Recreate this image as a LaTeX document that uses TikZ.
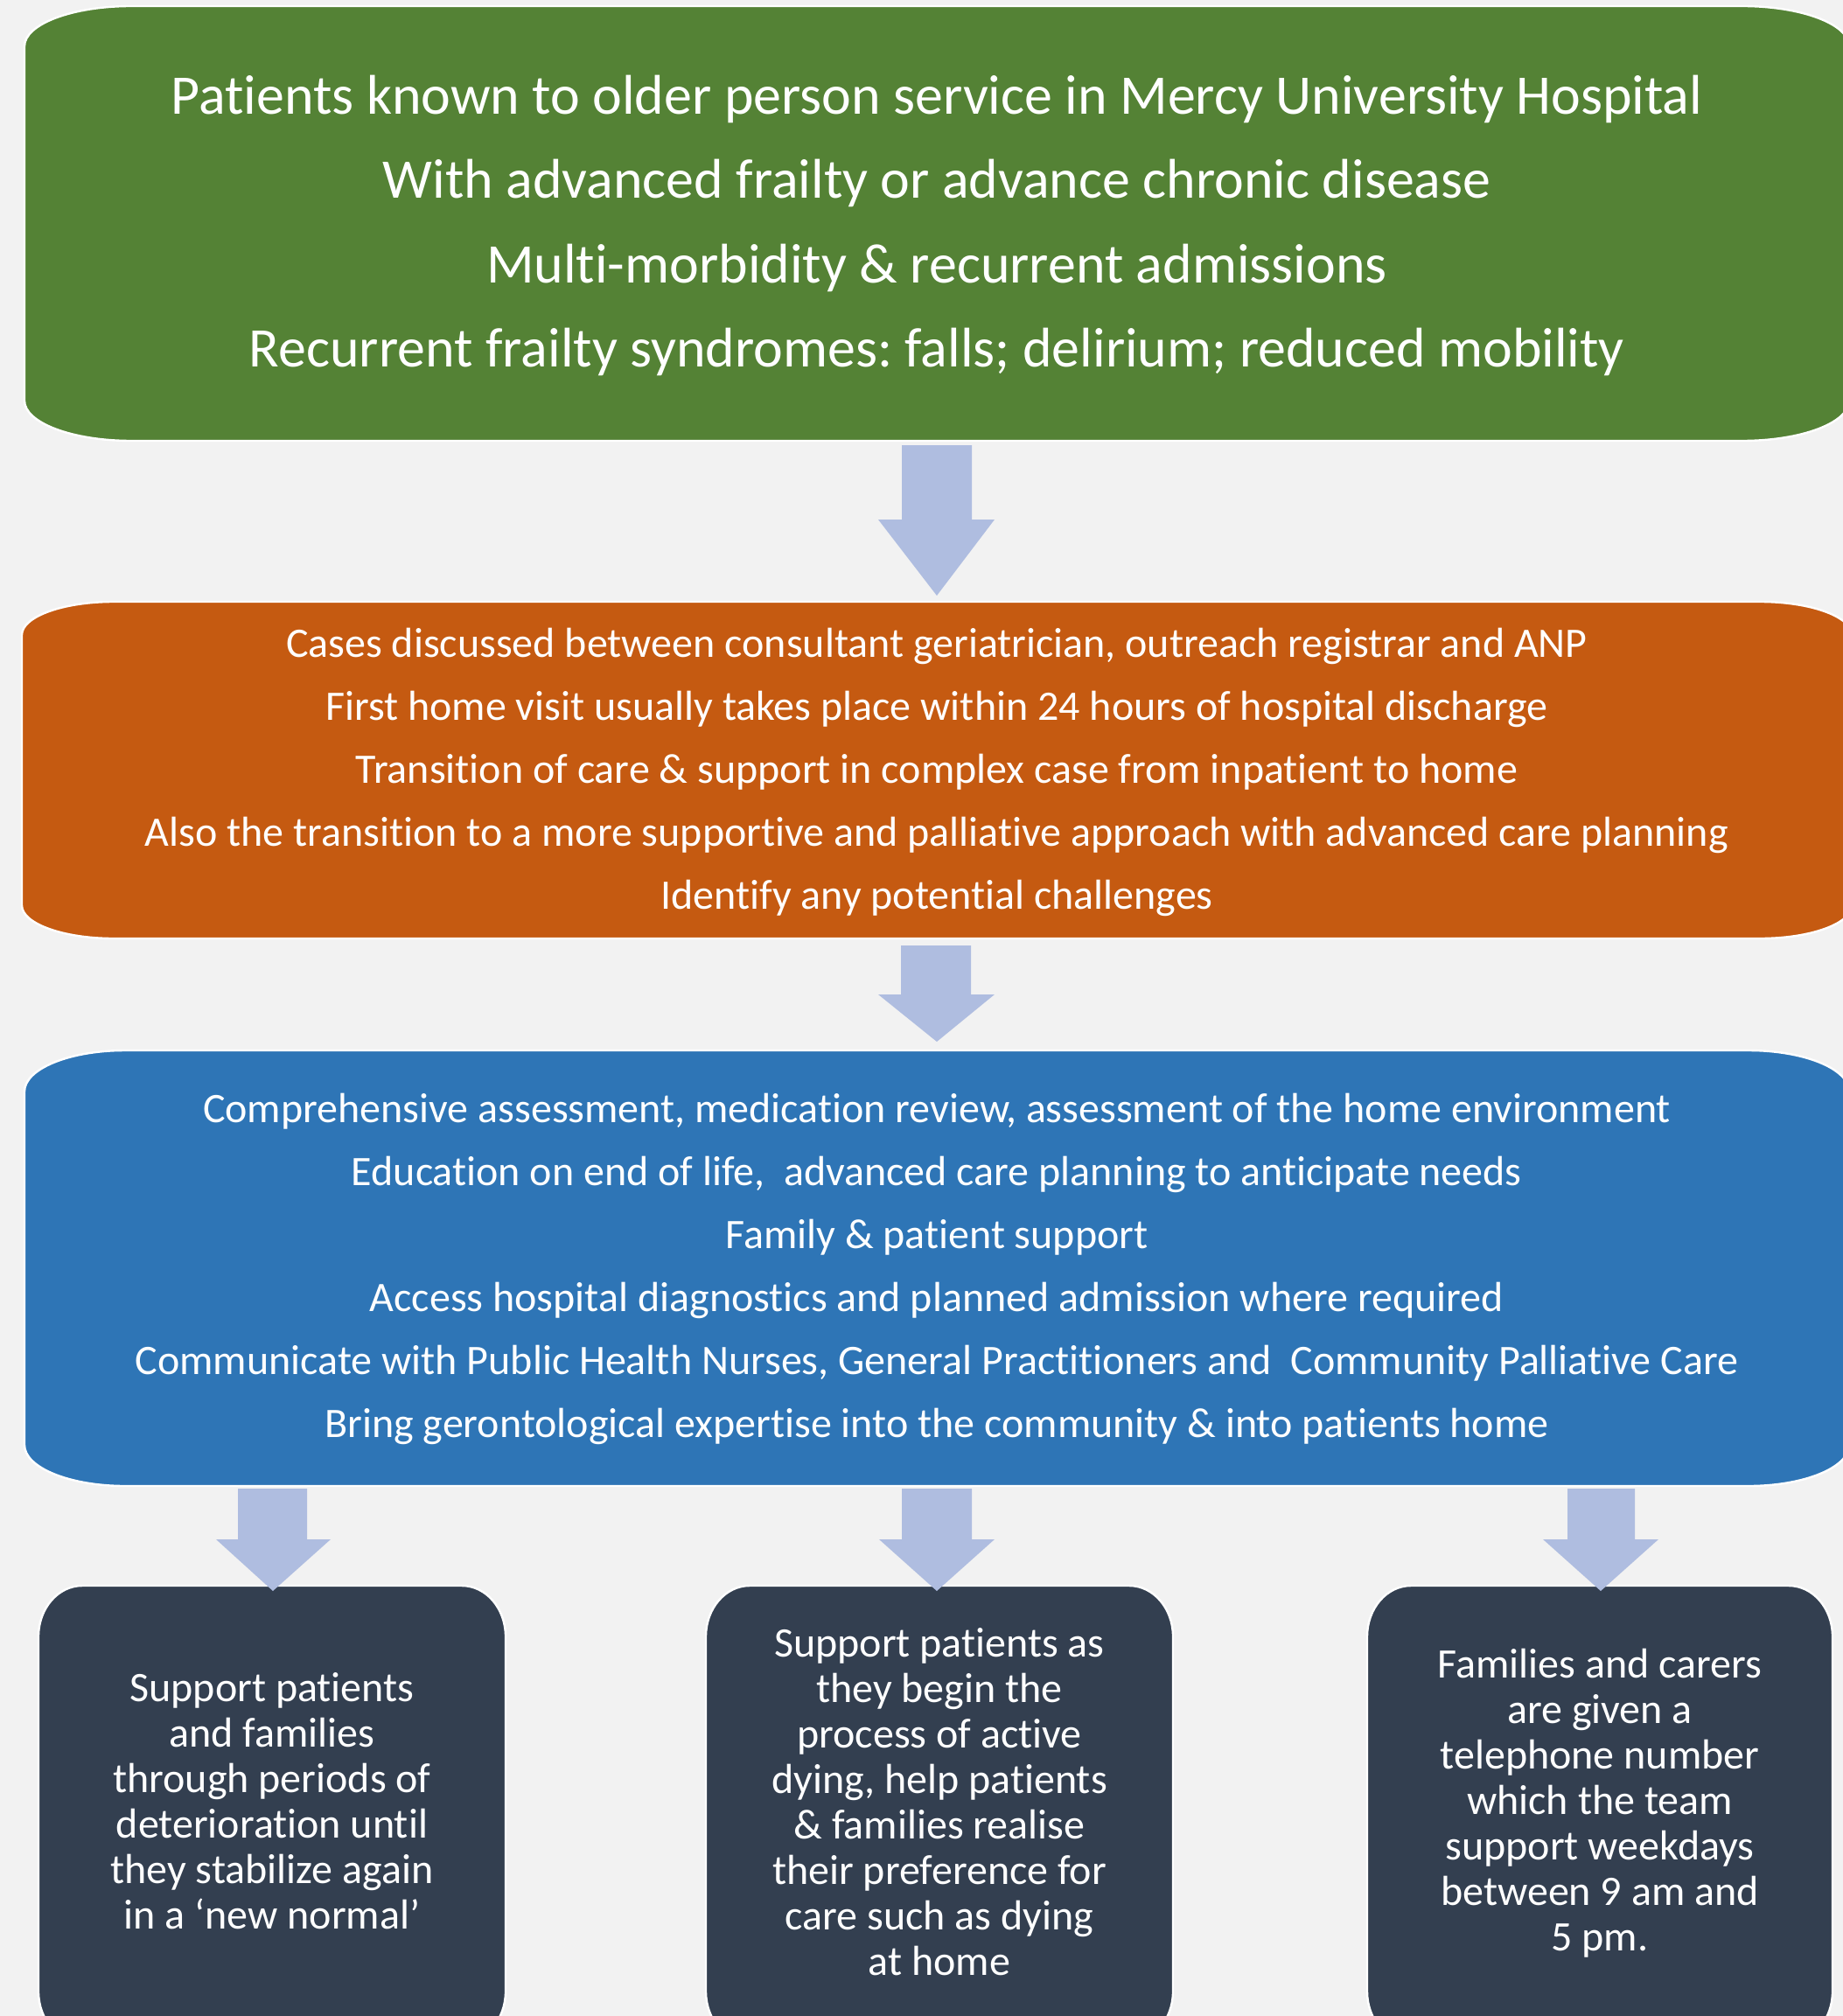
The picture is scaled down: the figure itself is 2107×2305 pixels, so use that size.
\documentclass[tikz,border=0pt]{standalone}
\usepackage{fontspec}
\setmainfont{Carlito}[Ligatures=NoCommon]
\frenchspacing
\definecolor{bgc}{HTML}{F2F2F2}
\definecolor{greenc}{HTML}{548235}
\definecolor{orangec}{HTML}{C55A11}
\definecolor{bluec}{HTML}{2E75B6}
\definecolor{darkc}{HTML}{333F50}
\definecolor{arrowc}{HTML}{AFBDE0}
\tikzset{
  boxfill/.style={fill=#1, draw=white, line width=1.2pt},
  arrowfill/.style={fill=arrowc},
  bigtext/.style={inner sep=0pt, text=white, align=center, font=\frenchspacing\fontsize{31.95pt}{48.25pt}\selectfont},
  midtext/.style={inner sep=0pt, text=white, align=center, font=\frenchspacing\fontsize{24pt}{36pt}\selectfont},
  smalltext/.style={inner sep=0pt, text=white, align=center, font=\frenchspacing\fontsize{24pt}{26pt}\selectfont}
}
% elliptical-corner box: style, x-left, y-top, x-right, y-bottom, rx, ry (pixel coords, y down)
\newcommand{\ebox}[7]{\path[#1] (#2+#6,-#3) -- (#4-#6,-#3)
  arc[start angle=90,end angle=0,x radius=#6,y radius=#7] -- (#4,-#5+#7)
  arc[start angle=0,end angle=-90,x radius=#6,y radius=#7] -- (#2+#6,-#5)
  arc[start angle=270,end angle=180,x radius=#6,y radius=#7] -- (#2,-#3-#7)
  arc[start angle=180,end angle=90,x radius=#6,y radius=#7] -- cycle;}
% block arrow: shaft left, shaft right, top, head y, head left, head right, tip x, tip y
\newcommand{\barrow}[8]{\fill[arrowfill] (#1,-#3) -- (#2,-#3) -- (#2,-#4) -- (#6,-#4) -- (#7,-#8) -- (#5,-#4) -- (#1,-#4) -- cycle;}
\begin{document}
\begin{tikzpicture}[x=0.5pt,y=0.5pt]
\useasboundingbox (0,0) rectangle (2107,-2305);
\clip (0,0) rectangle (2107,-2305);
\fill[bgc] (0,0) rectangle (2107,-2305);

% boxes
\ebox{boxfill=greenc}{28}{7}{2114}{504}{122}{46}
\ebox{boxfill=orangec}{25}{688}{2117}{1073}{105}{38}
\ebox{boxfill=bluec}{28}{1201}{2114}{1699}{115}{47}
\ebox{boxfill=darkc}{44}{1813}{578}{2335}{50}{58}
\ebox{boxfill=darkc}{807}{1813}{1341}{2335}{50}{58}
\ebox{boxfill=darkc}{1563}{1813}{2095}{2335}{50}{58}

% block arrows
\barrow{1031}{1111}{509}{594}{1004}{1137}{1071}{681}
\barrow{1030}{1110}{1081}{1137}{1004}{1137}{1071}{1191}
\barrow{272}{351}{1702}{1760}{247}{378}{312}{1819}
\barrow{1031}{1111}{1702}{1760}{1005}{1137}{1071}{1819}
\barrow{1792}{1869}{1702}{1760}{1764}{1896}{1830}{1819}

% texts
\node[bigtext] (g) at (1071,-258) {Patients known to older person service in Mercy University Hospital\\
With advanced frailty or advance chronic disease\\
Multi-morbidity \& recurrent admissions\\
Recurrent frailty syndromes: falls; delirium; reduced mobility};

\node[midtext] (o) at (1071,-883) {Cases discussed between consultant geriatrician, outreach registrar and ANP\\
First home visit usually takes place within 24 hours of hospital discharge\\
Transition of care \& support in complex case from inpatient to home\\
Also the transition to a more supportive and palliative approach with advanced care planning\\
Identify any potential challenges};

\node[midtext] (b) at (1071,-1451) {Comprehensive assessment, medication review, assessment of the home environment\\
Education on end of life,\ \ advanced care planning to anticipate needs\\
Family \& patient support\\
Access hospital diagnostics and planned admission where required\\
Communicate with Public Health Nurses, General Practitioners and\ \ Community Palliative Care\\
Bring gerontological expertise into the community \& into patients home};

\node[smalltext] (l) at (311,-2059) {Support patients\\and families\\through periods of\\deterioration until\\they stabilize again\\in a ‘new normal’};

\node[smalltext] (m) at (1074,-2060) {Support patients as\\they begin the\\process of active\\dying, help patients\\\& families realise\\their preference for\\care such as dying\\at home};

\node[smalltext] (r) at (1829,-2062) {Families and carers\\are given a\\telephone number\\which the team\\support weekdays\\between 9 am and\\5 pm.};
\end{tikzpicture}
\end{document}
